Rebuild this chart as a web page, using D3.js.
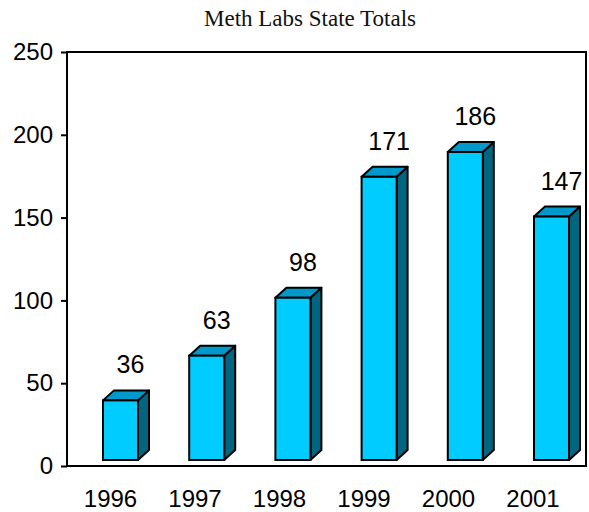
<!DOCTYPE html>
<html>
<head>
<meta charset="utf-8">
<script src="https://cdn.jsdelivr.net/npm/d3@7"></script>
<style>
  html, body { margin: 0; padding: 0; background: #fff; }
  svg { display: block; }
</style>
</head>
<body>
<script>
const title = "Meth Labs State Totals";
const years = ["1996", "1997", "1998", "1999", "2000", "2001"];
const labs = [36, 63, 98, 171, 186, 147];
const yTicks = [0, 50, 100, 150, 200, 250];

const W = 589, H = 512;
const plotLeft = 67, plotRight = 586, plotTop = 52, plotBottom = 466;
const barW = 35, depthX = 11, depthY = 10, baseLift = 6;
const colFront = "#00ccff", colTop = "#0099cc", colSide = "#006680";

const svg = d3.select("body").append("svg").attr("width", W).attr("height", H);

const y = d3.scaleLinear().domain([0, 250]).range([plotBottom, plotTop]);
const xBar = d3.scalePoint().domain(years).range([103, 534]);
const xLab = d3.scalePoint().domain(years).range([110, 532.5]);

// title
svg.append("text")
  .attr("x", 310).attr("y", 26)
  .attr("text-anchor", "middle")
  .attr("font-family", "'Liberation Serif', 'Times New Roman', serif")
  .attr("font-size", 23)
  .attr("fill", "#111")
  .text(title);

// y axis
const yAxis = svg.append("g")
  .attr("transform", `translate(${plotLeft},0)`)
  .call(d3.axisLeft(y).tickValues(yTicks).tickSize(6).tickPadding(8).tickSizeOuter(0));
yAxis.select(".domain").remove();
yAxis.selectAll(".tick line").attr("stroke", "#000").attr("stroke-width", 2);
yAxis.selectAll(".tick text")
  .attr("font-family", "'Liberation Sans', Arial, sans-serif")
  .attr("font-size", 24).attr("fill", "#000");

// x axis labels
const xAxis = svg.append("g")
  .attr("transform", `translate(0,${plotBottom})`)
  .call(d3.axisBottom(xLab).tickSize(0).tickPadding(24));
xAxis.select(".domain").remove();
xAxis.selectAll(".tick text")
  .attr("font-family", "'Liberation Sans', Arial, sans-serif")
  .attr("font-size", 24).attr("fill", "#000");

// frame
svg.append("rect")
  .attr("x", plotLeft).attr("y", plotTop)
  .attr("width", plotRight - plotLeft).attr("height", plotBottom - plotTop)
  .attr("fill", "none").attr("stroke", "#000").attr("stroke-width", 2);

// bars
const data = years.map((yr, i) => ({ yr, v: labs[i] }));
const g = svg.append("g").selectAll("g").data(data).join("g");

g.each(function(d) {
  const sel = d3.select(this);
  const x0 = xBar(d.yr), x1 = x0 + barW;
  const yb = plotBottom - baseLift;
  const yt = y(d.v) - baseLift;
  // side
  sel.append("path")
    .attr("d", `M${x1},${yt}L${x1 + depthX},${yt - depthY}L${x1 + depthX},${yb - depthY}L${x1},${yb}Z`)
    .attr("fill", colSide).attr("stroke", "#000").attr("stroke-width", 2).attr("stroke-linejoin", "round");
  // top
  sel.append("path")
    .attr("d", `M${x0},${yt}L${x0 + depthX},${yt - depthY}L${x1 + depthX},${yt - depthY}L${x1},${yt}Z`)
    .attr("fill", colTop).attr("stroke", "#000").attr("stroke-width", 2).attr("stroke-linejoin", "round");
  // front
  sel.append("rect")
    .attr("x", x0).attr("y", yt).attr("width", barW).attr("height", yb - yt)
    .attr("fill", colFront).attr("stroke", "#000").attr("stroke-width", 2);
  // value label
  sel.append("text")
    .attr("x", x0 + barW / 2 + 10).attr("y", yt - 27)
    .attr("text-anchor", "middle")
    .attr("font-family", "'Liberation Sans', Arial, sans-serif")
    .attr("font-size", 25).attr("fill", "#000")
    .text(d.v);
});
</script>
</body>
</html>
